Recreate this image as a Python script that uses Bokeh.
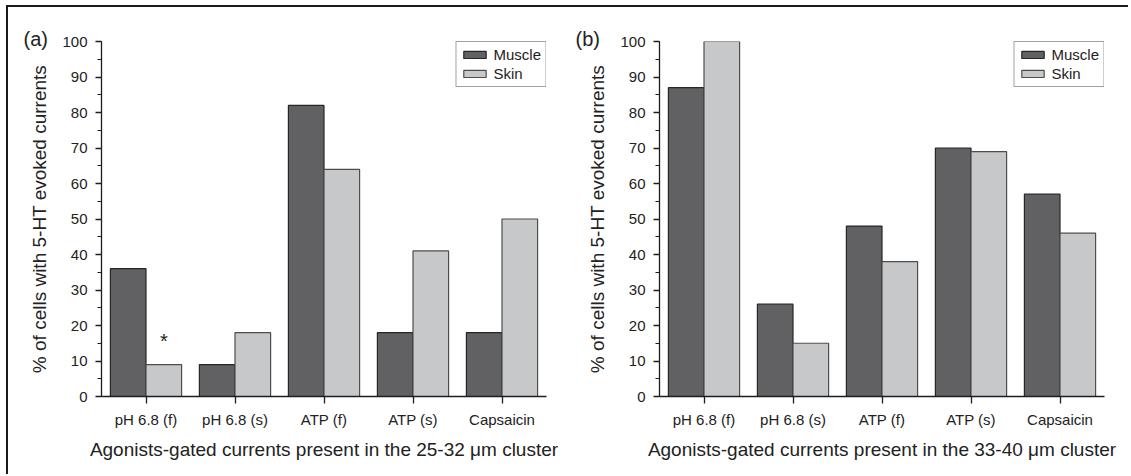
from bokeh.plotting import figure
from bokeh.layouts import row, column
from bokeh.models import (FactorRange, Range1d, SingleIntervalTicker, Legend,
                          LegendItem, ColumnDataSource, Div, Spacer)
from bokeh.transform import dodge
from bokeh.embed import file_html
from bokeh.resources import INLINE
from bokeh.core.properties import value

# ---------------- data ----------------
categories = ["pH 6.8 (f)", "pH 6.8 (s)", "ATP (f)", "ATP (s)", "Capsaicin"]
series_names = ["Muscle", "Skin"]

muscle_a = [36, 9, 82, 18, 18]
skin_a = [9, 18, 64, 41, 50]

muscle_b = [87, 26, 48, 70, 57]
skin_b = [100, 15, 38, 69, 46]

panel_tags = ["(a)", "(b)"]
x_titles = ["Agonists-gated currents present in the 25-32 \u03bcm cluster",
            "Agonists-gated currents present in the 33-40 \u03bcm cluster"]
y_title = "% of cells with 5-HT evoked currents"

# significance marks: (category, series, symbol)
stars_a = [("pH 6.8 (f)", "Skin", "*")]
stars_b = []

# ---------------- style ----------------
FONT = "Liberation Sans"
TXT = "#222222"
MUSCLE_FILL = "#616163"
SKIN_FILL = "#c7c8ca"
MUSCLE_LINE = "#262626"
SKIN_LINE = "#4d4d4d"
AXIS = "#1e1e1e"
FRAME = "#1a1a1a"
H = 467


def make_panel(tag, muscle, skin, x_title, stars, width, mb_left, mb_right):
    src = ColumnDataSource(dict(cat=categories, muscle=muscle, skin=skin))
    p = figure(x_range=FactorRange(*categories, range_padding=0),
               y_range=Range1d(0, 100),
               width=width, height=H,
               min_border_left=mb_left, min_border_right=mb_right,
               min_border_top=34, min_border_bottom=H - 34 - 355,
               output_backend="svg", toolbar_location=None)
    p.outline_line_color = None
    p.xgrid.visible = False
    p.ygrid.visible = False
    p.background_fill_color = "white"
    p.border_fill_color = "white"

    # panel tag "(a)" / "(b)" as the figure title, left of the top tick
    p.title.text = tag
    p.title.align = "left"
    p.title.offset = -(mb_left - 15)
    p.title.standoff = -16
    p.title.text_font = FONT
    p.title.text_font_size = "20px"
    p.title.text_font_style = "normal"
    p.title.text_color = TXT

    r1 = p.vbar(x=dodge("cat", -0.2, range=p.x_range), top="muscle", width=0.4,
                source=src, fill_color=MUSCLE_FILL, line_color=MUSCLE_LINE,
                line_width=1.2)
    r2 = p.vbar(x=dodge("cat", 0.2, range=p.x_range), top="skin", width=0.4,
                source=src, fill_color=SKIN_FILL, line_color=SKIN_LINE,
                line_width=1.2)

    if stars:
        vals = {"Muscle": muscle, "Skin": skin}
        offs = {"Muscle": -0.2, "Skin": 0.2}
        s_cat = [s[0] for s in stars]
        s_y = [vals[s[1]][categories.index(s[0])] + 6.5 for s in stars]
        s_txt = [s[2] for s in stars]
        s_off = offs[stars[0][1]]
        ssrc = ColumnDataSource(dict(cat=s_cat, y=s_y, t=s_txt))
        p.text(x=dodge("cat", s_off, range=p.x_range), y="y", text="t", source=ssrc,
               text_font=value(FONT), text_font_size="20px", text_color=TXT,
               text_align="center", text_baseline="alphabetic")

    # axes
    xa = p.xaxis[0]
    xa.axis_line_color = AXIS
    xa.axis_line_width = 1.3
    xa.major_tick_line_color = AXIS
    xa.major_tick_line_width = 1.3
    xa.major_tick_out = 7
    xa.major_tick_in = 0
    xa.minor_tick_out = 0
    xa.major_label_text_font = FONT
    xa.major_label_text_font_size = "15px"
    xa.major_label_text_color = TXT
    xa.major_label_standoff = 7
    xa.axis_label = x_title
    xa.axis_label_text_font = FONT
    xa.axis_label_text_font_size = "19px"
    xa.axis_label_text_font_style = "normal"
    xa.axis_label_text_color = TXT
    xa.axis_label_standoff = 8

    ya = p.yaxis[0]
    ya.ticker = SingleIntervalTicker(interval=10, num_minor_ticks=2)
    ya.axis_line_color = AXIS
    ya.axis_line_width = 1.3
    ya.major_tick_line_color = AXIS
    ya.major_tick_line_width = 1.3
    ya.minor_tick_line_color = AXIS
    ya.minor_tick_line_width = 1.2
    ya.major_tick_out = 6
    ya.major_tick_in = 0
    ya.minor_tick_out = 4
    ya.minor_tick_in = 0
    ya.major_label_text_font = FONT
    ya.major_label_text_font_size = "15px"
    ya.major_label_text_color = TXT
    ya.major_label_standoff = 8
    ya.axis_label = y_title
    ya.axis_label_text_font = FONT
    ya.axis_label_text_font_size = "19px"
    ya.axis_label_text_font_style = "normal"
    ya.axis_label_text_color = TXT
    ya.axis_label_standoff = 9

    legend = Legend(items=[LegendItem(label=series_names[0], renderers=[r1]),
                           LegendItem(label=series_names[1], renderers=[r2])],
                    location="top_right", margin=0, padding=4, spacing=2,
                    glyph_width=28, glyph_height=9, label_height=15,
                    label_standoff=5,
                    label_text_font=FONT, label_text_font_size="15px",
                    label_text_color=TXT,
                    border_line_color="#444444", border_line_width=1,
                    background_fill_color="white", background_fill_alpha=1)
    p.add_layout(legend)
    return p


p1 = make_panel(panel_tags[0], muscle_a, skin_a, x_titles[0], stars_a, 552, 93, 14)
p2 = make_panel(panel_tags[1], muscle_b, skin_b, x_titles[1], stars_b, 560, 99, 16)

# figure frame: a line along the top and the left edge of the page
line_styles = {"background-color": FRAME, "overflow": "hidden",
               "line-height": "0", "font-size": "0"}
top_line = Div(text="", width=1120, height=2, margin=0, styles=line_styles)
left_line = Div(text="", width=2, height=469, margin=0, styles=line_styles)

layout = column(
    Spacer(width=10, height=5, margin=0),
    row(Spacer(width=6, height=10, margin=0), left_line,
        column(top_line, row(p1, p2, spacing=0), spacing=0),
        spacing=0),
    spacing=0,
)

open("out.html", "w").write(file_html(layout, INLINE))
